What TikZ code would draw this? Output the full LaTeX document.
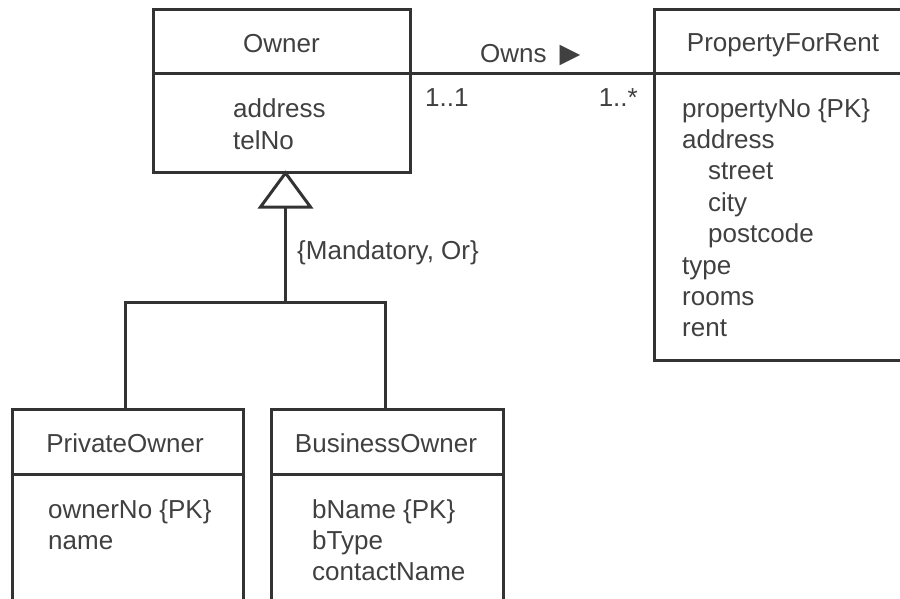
\documentclass[tikz,border=0pt]{standalone}
\usepackage{fontspec}
\setmainfont{Liberation Sans}
\newfontfamily\symbolfont{DejaVu Sans}
\usetikzlibrary{positioning}
\definecolor{umlgray}{HTML}{333333}
\definecolor{umltext}{HTML}{404040}

\begin{document}
\begin{tikzpicture}[
    x=1pt, y=-1pt,
    every node/.style={font=\fontsize{26}{31.4}\selectfont, text=umltext, inner sep=0pt},
    classbox/.style={draw=umlgray, line width=3pt, outer sep=0pt},
    rule/.style={draw=umlgray, line width=3pt},
    title/.style={anchor=base},
    attrs/.style={anchor=base west, align=left},
    lbl/.style={anchor=base west}
]
    \clip (0,0) rectangle (900,599);

    % class boxes
    \node[classbox, minimum width=257pt, minimum height=163pt] (owner) at (281.5,91.5) {};
    \node[classbox, minimum width=260pt, minimum height=350pt] (prop) at (784,185) {};
    \node[classbox, minimum width=231pt, minimum height=240pt] (private) at (127.5,529) {};
    \node[classbox, minimum width=232pt, minimum height=240pt] (business) at (387,529) {};

    \coordinate (topdiv) at (0,74);
    \coordinate (lowdiv) at (0,474);
    \draw[rule] (owner.west |- topdiv) -- (owner.east |- topdiv);
    \draw[rule] (prop.west |- topdiv) -- (prop.east |- topdiv);
    \draw[rule] (private.west |- lowdiv) -- (private.east |- lowdiv);
    \draw[rule] (business.west |- lowdiv) -- (business.east |- lowdiv);

    % association
    \draw[rule] (owner.east |- topdiv) -- (prop.west |- topdiv);

    % generalization
    \coordinate (genapex) at ([xshift=4pt]owner.south);
    \coordinate (genbase) at (285.5,207);
    \coordinate (fork) at (285.5,302);
    \draw[rule] (genapex) -- ++(-25,34) -- ++(50,0) -- cycle;
    \draw[rule] (genbase) -- (fork);
    \draw[rule] ([xshift=-2.5pt]private.north) |- (fork) -| ([xshift=-2pt]business.north);

    % texts (multi-line nodes sit on their last line)
    \node[title] (ownerT) at (281.5,53) {Owner};
    \node[attrs] (ownerA) at (233,149.4) {address\\telNo};
    \node[lbl] (owns) at (480,63) {Owns\hspace{13pt}{\symbolfont\fontsize{27}{27}\selectfont ▶}};
    \node[lbl] (multOwner) at (425,107) {1..1};
    \node[anchor=base east] (multProp) at (638,107) {1..*};
    \node[title] (propT) at (783,52) {PropertyForRent};
    \node[attrs] (propA) at (682,336.8) {propertyNo \{PK\}\\address\\\hspace*{26pt}street\\\hspace*{26pt}city\\\hspace*{26pt}postcode\\type\\rooms\\rent};
    \node[lbl] (constraint) at (297,259) {\{Mandatory, Or\}};
    \node[title] (privT) at (125,452) {PrivateOwner};
    \node[title] (busT) at (386,452) {BusinessOwner};
    \node[attrs] (privA) at (48,549.4) {ownerNo \{PK\}\\name};
    \node[attrs] (busA) at (312,580.8) {bName \{PK\}\\bType\\contactName};
\end{tikzpicture}
\end{document}
